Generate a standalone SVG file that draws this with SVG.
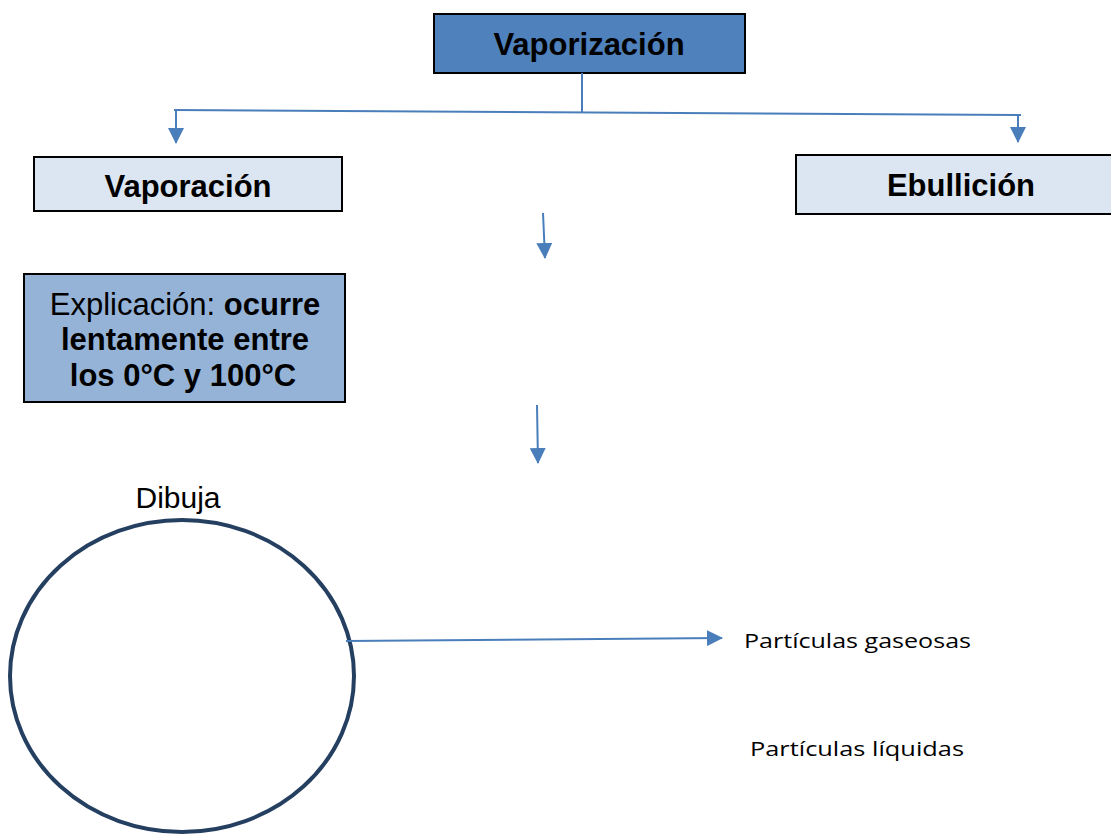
<svg xmlns="http://www.w3.org/2000/svg" width="1111" height="834" viewBox="0 0 1111 834">
<defs>
<marker id="ahs" markerWidth="16" markerHeight="16" refX="15" refY="8" orient="auto" markerUnits="userSpaceOnUse" viewBox="0 0 16 16">
<path d="M0,0 L16,8 L0,16 z" fill="#4A7EBB"/>
</marker>
<style>
.box{stroke:#000;stroke-width:2}
.t{font-family:"Liberation Sans",Arial,sans-serif;fill:#000}
.b{font-weight:bold}
.ln{stroke:#4A7EBB;stroke-width:2;fill:none}
.c{font-family:"Open Sans","Liberation Sans",sans-serif;fill:#000}
</style>
</defs>
<g id="vaporizacion">
<rect class="box" x="434" y="14" width="311" height="59" fill="#4F81BD"/>
<text class="t b" x="589" y="55" font-size="31" text-anchor="middle">Vaporización</text>
</g>
<g id="vaporacion">
<rect class="box" x="34" y="157" width="308" height="54" fill="#DCE6F2"/>
<text class="t b" x="188" y="197" font-size="31" text-anchor="middle">Vaporación</text>
</g>
<g id="ebullicion">
<rect class="box" x="796" y="155" width="320" height="59" fill="#DCE6F2"/>
<text class="t b" x="961" y="196" font-size="31" text-anchor="middle">Ebullición</text>
</g>
<g id="explicacion">
<rect class="box" x="24" y="274" width="321" height="128" fill="#95B3D7"/>
<text class="t" font-size="31" text-anchor="middle"><tspan x="185" y="315">Explicación: <tspan class="b">ocurre</tspan></tspan><tspan class="b" x="185" y="350">lentamente entre</tspan><tspan class="b" x="183" y="386">los 0°C y 100°C</tspan></text>
</g>
<g id="dibuja">
<text class="t" x="178" y="508" font-size="30" text-anchor="middle">Dibuja</text>
<ellipse cx="182" cy="676" rx="172" ry="156" fill="none" stroke="#243F60" stroke-width="4"/>
</g>
<g id="labels">
<text class="c" x="744" y="648" font-size="20" textLength="227" lengthAdjust="spacingAndGlyphs">Partículas gaseosas</text>
<text class="c" x="750" y="756" font-size="20" textLength="214" lengthAdjust="spacingAndGlyphs">Partículas líquidas</text>
</g>
<g id="connectors">
<line class="ln" x1="582" y1="73" x2="582" y2="112"/>
<line class="ln" x1="174" y1="110" x2="1021" y2="115"/>
<line class="ln" x1="176" y1="110" x2="176" y2="143" marker-end="url(#ahs)"/>
<line class="ln" x1="1018" y1="115" x2="1018" y2="142" marker-end="url(#ahs)"/>
<line class="ln" x1="543" y1="213" x2="545" y2="258" marker-end="url(#ahs)"/>
<line class="ln" x1="537" y1="405" x2="538" y2="463" marker-end="url(#ahs)"/>
<line class="ln" x1="346" y1="641" x2="722" y2="638" marker-end="url(#ahs)"/>
</g>
</svg>
